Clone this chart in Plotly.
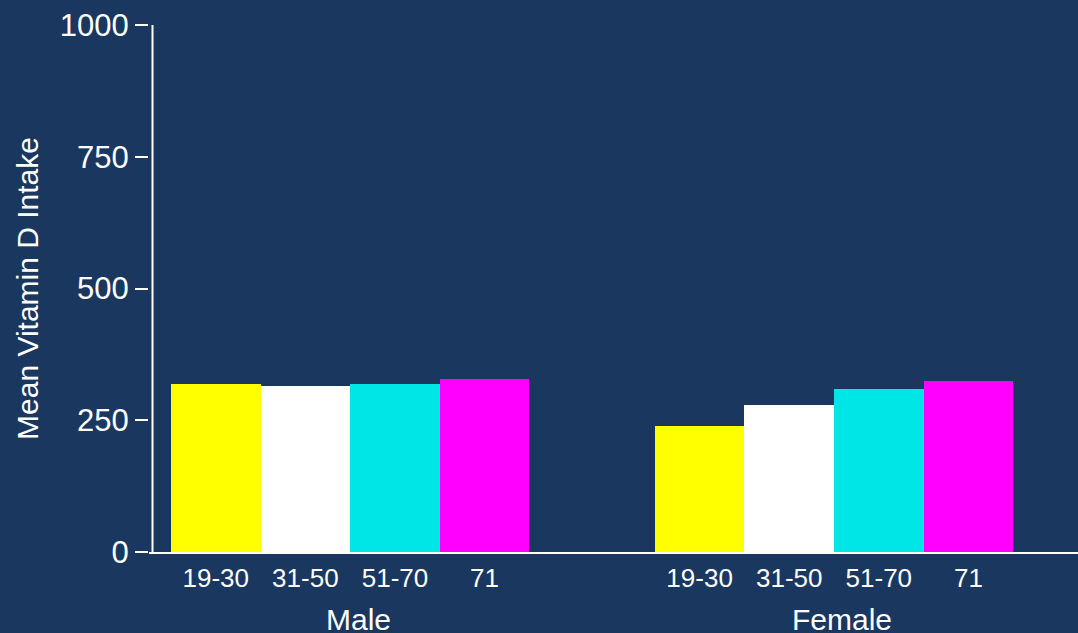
import plotly.graph_objects as go

genders = ["Male", "Female"]
ages = ["19-30", "31-50", "51-70", "71"]
male_values = [319, 315, 319, 328]
female_values = [239, 279, 309, 324]
colors = ["#FFFF00", "#FFFFFF", "#00E5E5", "#FF00FF"]

BG = "#1a375f"
GROUP_STEP = 5.40  # spacing between group starts, in bar units

values_by_gender = {"Male": male_values, "Female": female_values}

fig = go.Figure()
tickvals, ticktext = [], []
for a, age in enumerate(ages):
    xs = [g * GROUP_STEP + a for g in range(len(genders))]
    ys = [values_by_gender[gname][a] for gname in genders]
    fig.add_trace(go.Bar(x=xs, y=ys, width=1.0, marker=dict(color=colors[a], line=dict(width=0)),
                         name=age, showlegend=False))
for g in range(len(genders)):
    for a, age in enumerate(ages):
        tickvals.append(g * GROUP_STEP + a)
        ticktext.append(age)

for g, gname in enumerate(genders):
    fig.add_annotation(x=g * GROUP_STEP + (len(ages) - 1) / 2, xref="x", y=0, yref="paper",
                       yanchor="top", yshift=-49, xshift=8, text=gname, showarrow=False,
                       font=dict(size=30, color="white", family="Liberation Sans, Arial, sans-serif"))

# y axis line offset slightly to the right of tick marks
fig.add_shape(type="line", xref="paper", xsizemode="pixel", xanchor=0, x0=3.5, x1=3.5,
              yref="y", y0=0, y1=1000, line=dict(color="white", width=2), layer="above")

fig.update_layout(
    width=1078, height=633,
    paper_bgcolor=BG, plot_bgcolor=BG,
    margin=dict(l=149, r=0, t=25, b=81),
    bargap=0, barmode="overlay",
    font=dict(family="Liberation Sans, Arial, sans-serif", color="white"),
    xaxis=dict(range=[-0.745, 9.623], tickvals=tickvals, ticktext=ticktext, showgrid=False,
               zeroline=False, showline=True, linecolor="white", linewidth=2, ticks="",
               tickfont=dict(size=26, color="white"), ticklabelstandoff=2),
    yaxis=dict(range=[0, 1000], tickvals=[0, 250, 500, 750, 1000], showgrid=False, zeroline=False,
               showline=False, ticks="outside", ticklen=13, tickwidth=2, tickcolor="white",
               tickfont=dict(size=31, color="white"),
               title=dict(text="Mean Vitamin D Intake", font=dict(size=30, color="white"), standoff=12)),
)

fig.write_html("out.html", config={"displayModeBar": False},
               post_script="document.body.style.margin='0';document.body.style.background='" + BG + "';")
